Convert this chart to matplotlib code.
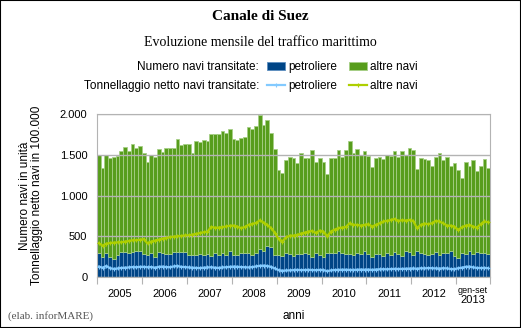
import numpy as np
import matplotlib.pyplot as plt
from matplotlib.ticker import FuncFormatter
from matplotlib.patches import Rectangle

plt.rcParams['font.family'] = ['Liberation Sans', 'DejaVu Sans']

#####################      Dati (valori mensili)      #####################

anni = ['2005', '2006', '2007', '2008', '2009', '2010', '2011', '2012']

# numero navi transitate: petroliere
petroliere = [
    300, 250, 300, 250, 225, 275, 303, 312, 300, 312, 324, 324,
    287, 275, 300, 250, 312, 300, 287, 279, 312, 303, 312, 312,
    265, 265, 265, 278, 265, 282, 262, 291, 270, 290, 270, 320,
    271, 271, 295, 295, 291, 271, 295, 348, 320, 385, 365, 271,
    271, 262, 295, 283, 258, 283, 283, 295, 279, 246, 299, 271,
    246, 291, 291, 299, 324, 295, 279, 279, 271, 295, 279, 324,
    287, 242, 287, 287, 258, 299, 275, 307, 287, 262, 320, 307,
    275, 324, 299, 283, 275, 279, 307, 271, 295, 291, 320, 258,
    238, 295, 287, 320, 283, 307, 299, 295, 283,
]

# numero navi transitate: totale (petroliere + altre navi)
totale = [
    1496, 1333, 1496, 1455, 1467, 1484, 1540, 1598, 1540, 1630, 1585, 1610,
    1516, 1415, 1500, 1467, 1565, 1537, 1577, 1585, 1585, 1690, 1622, 1630,
    1630, 1516, 1670, 1660, 1683, 1663, 1760, 1760, 1760, 1790, 1772, 1817,
    1690, 1680, 1700, 1712, 1838, 1817, 1850, 1992, 1870, 1927, 1772, 1565,
    1317, 1272, 1435, 1476, 1463, 1398, 1520, 1455, 1455, 1557, 1415, 1455,
    1415, 1260, 1463, 1463, 1561, 1476, 1557, 1663, 1516, 1573, 1500, 1548,
    1484, 1355, 1464, 1476, 1444, 1500, 1480, 1540, 1468, 1544, 1500, 1577,
    1560, 1331, 1464, 1448, 1431, 1363, 1468, 1524, 1440, 1476, 1359, 1399,
    1319, 1218, 1411, 1367, 1436, 1298, 1367, 1452, 1343,
]

# tonnellaggio netto (in 100.000): petroliere
ton_petroliere = [
    127, 115, 135, 108, 100, 105, 112, 115, 118, 122, 120, 125,
    125, 120, 122, 115, 125, 128, 122, 120, 130, 135, 125, 122,
    118, 115, 112, 110, 115, 118, 120, 115, 112, 118, 120, 125,
    128, 126, 122, 120, 118, 122, 130, 138, 140, 135, 125, 105,
    85, 78, 80, 82, 85, 88, 85, 86, 88, 86, 84, 88,
    86, 72, 82, 86, 88, 90, 90, 88, 86, 90, 92, 90,
    92, 88, 92, 95, 96, 95, 98, 100, 98, 100, 102, 104,
    105, 102, 108, 106, 110, 108, 106, 104, 108, 106, 98, 96,
    108, 115, 125, 128, 118, 112, 110, 112, 108,
]

# tonnellaggio netto (in 100.000): altre navi
ton_altre = [
    414, 385, 410, 418, 422, 426, 426, 435, 443, 451, 451, 459,
    465, 412, 435, 447, 459, 471, 480, 488, 496, 500, 504, 510,
    512, 520, 530, 540, 550, 555, 615, 605, 607, 612, 620, 630,
    631, 619, 599, 615, 640, 652, 664, 695, 668, 640, 599, 545,
    465, 435, 485, 508, 508, 517, 533, 545, 558, 566, 541, 570,
    558, 500, 558, 582, 599, 607, 615, 660, 640, 640, 631, 640,
    648, 619, 640, 660, 681, 689, 701, 713, 689, 697, 693, 701,
    689, 599, 640, 656, 648, 660, 689, 681, 660, 631, 631, 619,
    578, 611, 631, 640, 619, 607, 648, 681, 672,
]

altre_navi = [t - p for t, p in zip(totale, petroliere)]
mesi = np.arange(len(totale))

#########################          Grafico        #######################

fig = plt.figure(figsize=(5.21, 3.28), dpi=100)
ax = fig.add_axes([97 / 521, 51 / 328, 393 / 521, 163 / 328])

b1 = ax.bar(mesi, petroliere, width=1.0, color='#004586',
            edgecolor='#5d8fc0', linewidth=0.6, zorder=2)
b2 = ax.bar(mesi, altre_navi, bottom=petroliere, width=1.0, color='#579d1c',
            edgecolor='#a6cf85', linewidth=0.6, zorder=2)
l1, = ax.plot(mesi, ton_petroliere, color='#83caff', lw=1.6, marker='+',
              ms=2.5, mew=0.8, zorder=3)
l2, = ax.plot(mesi, ton_altre, color='#aecf00', lw=1.6, marker='+',
              ms=2.5, mew=0.8, zorder=3)

ax.set_xlim(-0.5, len(mesi) - 0.5)
ax.set_ylim(0, 2000)
ax.set_yticks([0, 500, 1000, 1500, 2000])
ax.yaxis.set_major_formatter(FuncFormatter(lambda v, p: f'{int(v):,}'.replace(',', '.')))
ax.yaxis.grid(True, color='#b3b3b3', lw=1, zorder=1)
ax.set_axisbelow(False)
for s in ax.spines.values():
    s.set_color('#b3b3b3')
ax.tick_params(axis='y', length=0, labelsize=8, pad=7)

# tacche ai confini degli anni, etichette al centro
confini = [i * 12 - 0.5 for i in range(9)] + [len(mesi) - 0.5]
ax.set_xticks(confini)
ax.set_xticklabels([])
ax.tick_params(axis='x', length=5, color='#b3b3b3', direction='out')
for i, a in enumerate(anni):
    ax.text(i * 12 + 5.5, -0.075, a, transform=ax.get_xaxis_transform(),
            ha='center', va='top', fontsize=8)
ax.text(100, -0.055, 'gen-set', transform=ax.get_xaxis_transform(),
        ha='center', va='top', fontsize=6.5)
ax.text(100, -0.11, '2013', transform=ax.get_xaxis_transform(),
        ha='center', va='top', fontsize=8)
ax.set_xlabel('anni', fontsize=8.5, labelpad=15)

ax.set_ylabel('Numero navi in unità\nTonnellaggio netto navi in 100.000',
              fontsize=8.5, labelpad=12, linespacing=1.0)

# titoli
fig.text(0.5, 1 - 17 / 328, 'Canale di Suez', ha='center',
         va='center', fontsize=11, fontweight='bold', family='Liberation Serif')
fig.text(0.5, 1 - 42 / 328, 'Evoluzione mensile del traffico marittimo',
         ha='center', va='center', fontsize=10, family='Liberation Serif')

# legenda
fig.text(259 / 521, 1 - 67 / 328, 'Numero navi transitate:', ha='right',
         va='center', fontsize=8.5)
fig.text(259 / 521, 1 - 86 / 328, 'Tonnellaggio netto navi transitate:',
         ha='right', va='center', fontsize=8.5)
kw = dict(frameon=False, ncol=2, fontsize=8.5, handlelength=1.5, handleheight=0.7,
          handletextpad=0.3, columnspacing=1.0, borderpad=0, borderaxespad=0,
          loc='center left')
fig.legend([b1, b2], ['petroliere', 'altre navi'],
           bbox_to_anchor=(267 / 521, 1 - 67 / 328), **kw)
fig.legend([l1, l2], ['petroliere', 'altre navi'],
           bbox_to_anchor=(267 / 521, 1 - 86 / 328), **kw)

fig.text(8 / 521, 1 - 316 / 328, '(elab. inforMARE)', ha='left', va='center',
         fontsize=8, color='#555555', family='Liberation Serif')

fig.patches.append(Rectangle((0, 0), 1, 1, transform=fig.transFigure,
                             fill=False, edgecolor='black', lw=1.5))

plt.savefig('out.png', dpi=100)
